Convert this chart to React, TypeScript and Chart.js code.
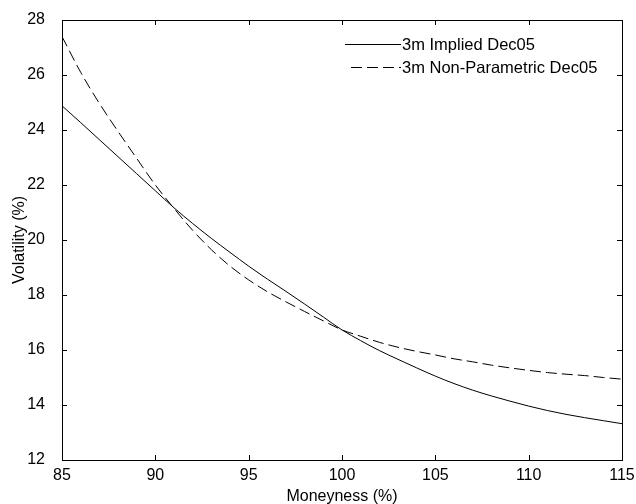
import React, { useEffect, useRef } from "react";
import { Chart, registerables } from "chart.js";

Chart.register(...registerables);

const moneyness = [85, 86, 87, 88, 89, 90, 91, 92, 93, 94, 95, 96, 97, 98, 99, 100, 101, 102, 103, 104, 105, 106, 107, 108, 109, 110, 111, 112, 113, 114, 115];
const impliedVol = [24.88, 24.27, 23.65, 23.03, 22.41, 21.79, 21.17, 20.6, 20.06, 19.55, 19.05, 18.58, 18.13, 17.67, 17.2, 16.73, 16.34, 15.98, 15.66, 15.35, 15.05, 14.78, 14.54, 14.33, 14.14, 13.96, 13.8, 13.66, 13.54, 13.43, 13.32];
const nonParamVol = [27.4, 26.1, 24.97, 23.95, 22.97, 22.0, 21.15, 20.35, 19.65, 19.05, 18.55, 18.12, 17.75, 17.4, 17.06, 16.73, 16.5, 16.28, 16.1, 15.95, 15.82, 15.68, 15.57, 15.45, 15.35, 15.26, 15.18, 15.12, 15.07, 15.0, 14.94];
const xTicks = [85, 90, 95, 100, 105, 110, 115];
const yTicks = [12, 14, 16, 18, 20, 22, 24, 26, 28];
const seriesLabels = ["3m Implied Dec05", "3m Non-Parametric Dec05"];
const xTitle = "Moneyness (%)";
const yTitle = "Volatility (%)";

const FONT = "Arial, 'Liberation Sans', sans-serif";
const DASH = [11, 5];

const frameTicksPlugin = {
  id: "frameTicks",
  afterDraw(chart: any) {
    const { ctx, chartArea } = chart;
    const { left, right, top, bottom } = chartArea;
    const xs = chart.scales.x;
    const ys = chart.scales.y;
    ctx.save();
    ctx.strokeStyle = "#000";
    ctx.lineWidth = 1;
    ctx.setLineDash([]);
    ctx.strokeRect(Math.round(left) + 0.5, Math.round(top) + 0.5, Math.round(right - left), Math.round(bottom - top));
    const len = 5;
    ctx.beginPath();
    xTicks.forEach((v) => {
      const px = Math.round(xs.getPixelForValue(v)) + 0.5;
      ctx.moveTo(px, bottom);
      ctx.lineTo(px, bottom - len);
      ctx.moveTo(px, top);
      ctx.lineTo(px, top + len);
    });
    yTicks.forEach((v) => {
      const py = Math.round(ys.getPixelForValue(v)) + 0.5;
      ctx.moveTo(left, py);
      ctx.lineTo(left + len, py);
      ctx.moveTo(right, py);
      ctx.lineTo(right - len, py);
    });
    ctx.stroke();
    ctx.restore();
  },
};

const legendPlugin = {
  id: "matlabLegend",
  afterDraw(chart: any) {
    const { ctx } = chart;
    ctx.save();
    ctx.strokeStyle = "#000";
    ctx.fillStyle = "#000";
    ctx.lineWidth = 1;
    ctx.font = "16.5px " + FONT;
    ctx.textBaseline = "middle";
    ctx.textAlign = "left";
    const rows = [
      { y: 45, dash: [] as number[], x0: 345 },
      { y: 68, dash: DASH, x0: 351 },
    ];
    chart.data.datasets.forEach((ds: any, i: number) => {
      const r = rows[i];
      ctx.setLineDash(r.dash);
      ctx.beginPath();
      ctx.moveTo(r.x0, r.y - 1 + 0.5);
      ctx.lineTo(401, r.y - 1 + 0.5);
      ctx.stroke();
      ctx.setLineDash([]);
      ctx.fillText(ds.label, 402, r.y);
    });
    ctx.restore();
  },
};

export default function App() {
  const canvasRef = useRef<HTMLCanvasElement | null>(null);

  useEffect(() => {
    if (!canvasRef.current) return;
    const chart = new Chart(canvasRef.current, {
      type: "line",
      data: {
        datasets: [
          {
            label: seriesLabels[0],
            data: moneyness.map((x, i) => ({ x, y: impliedVol[i] })),
            borderColor: "#000",
            borderWidth: 1,
            pointRadius: 0,
            fill: false,
            cubicInterpolationMode: "monotone",
          },
          {
            label: seriesLabels[1],
            data: moneyness.map((x, i) => ({ x, y: nonParamVol[i] })),
            borderColor: "#000",
            borderWidth: 1,
            borderDash: DASH,
            pointRadius: 0,
            fill: false,
            cubicInterpolationMode: "monotone",
          },
        ],
      },
      options: {
        responsive: false,
        animation: false,
        devicePixelRatio: 1,
        layout: { padding: { top: 20, right: 14, bottom: 0, left: 0 } },
        plugins: {
          legend: { display: false },
          tooltip: { enabled: false },
        },
        scales: {
          x: {
            type: "linear",
            min: 85,
            max: 115,
            afterBuildTicks: (scale: any) => {
              scale.ticks = xTicks.map((v) => ({ value: v }));
            },
            afterFit: (scale: any) => {
              scale.height = 44;
            },
            grid: { display: false },
            border: { display: false },
            ticks: {
              color: "#000",
              font: { family: FONT, size: 16 },
              padding: -2,
              maxRotation: 0,
              autoSkip: false,
            },
            title: {
              display: true,
              text: xTitle,
              color: "#000",
              font: { family: FONT, size: 16, lineHeight: 0.875 },
              padding: { top: 0, bottom: 0 },
            },
          },
          y: {
            type: "linear",
            min: 12,
            max: 28,
            afterBuildTicks: (scale: any) => {
              scale.ticks = yTicks.map((v) => ({ value: v }));
            },
            afterFit: (scale: any) => {
              scale.width = 62;
            },
            grid: { display: false },
            border: { display: false },
            ticks: {
              color: "#000",
              font: { family: FONT, size: 16 },
              padding: 9,
              autoSkip: false,
            },
            title: {
              display: true,
              text: yTitle,
              color: "#000",
              font: { family: FONT, size: 16 },
              padding: { top: 10, bottom: 0 },
            },
          },
        },
      },
      plugins: [frameTicksPlugin, legendPlugin],
    } as any);
    return () => chart.destroy();
  }, []);

  return (
    <div style={{ position: "fixed", left: 0, top: 0, width: 636, height: 504, background: "#fff" }}>
      <canvas ref={canvasRef} width={636} height={504} style={{ display: "block" }} />
    </div>
  );
}
